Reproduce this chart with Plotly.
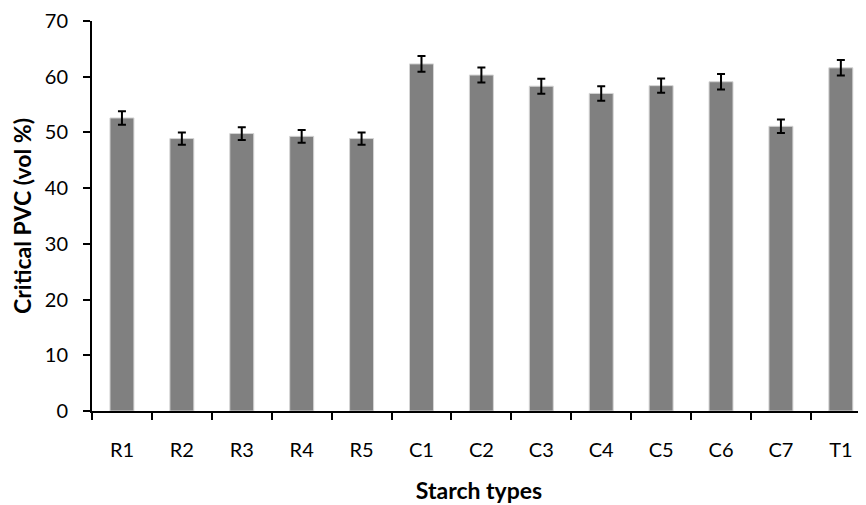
import plotly.graph_objects as go

starch_types = ["R1", "R2", "R3", "R4", "R5", "C1", "C2", "C3", "C4", "C5", "C6", "C7", "T1"]
critical_pvc = [52.6, 48.9, 49.8, 49.3, 48.9, 62.3, 60.3, 58.3, 57.0, 58.4, 59.1, 51.1, 61.6]
pvc_error = [1.2, 1.1, 1.15, 1.15, 1.1, 1.4, 1.35, 1.35, 1.3, 1.3, 1.4, 1.2, 1.4]

font_family = "Lato, 'Open Sans', sans-serif"

fig = go.Figure()

fig.add_trace(go.Bar(
    x=starch_types,
    y=critical_pvc,
    width=0.4,
    marker=dict(color="#808080", line=dict(color="#d4d4d4", width=1)),
    error_y=dict(type="data", array=pvc_error, visible=True,
                 color="black", thickness=2, width=4),
))

# page body has an 8px margin, so the figure is shrunk to fit the 866x505 window
fig.update_layout(
    width=858, height=497,
    margin=dict(l=84, r=0, t=7, b=94),
    plot_bgcolor="white",
    paper_bgcolor="white",
    showlegend=False,
    font=dict(family=font_family, size=20, color="black"),
)

fig.update_xaxes(
    type="category",
    range=[-0.5, 12.42],
    showline=True, linecolor="black", linewidth=2,
    ticks="outside", tickson="boundaries", ticklen=7, tickwidth=2, tickcolor="black",
    showgrid=False,
    title=dict(text="<b>Starch types</b>", standoff=23,
               font=dict(family=font_family, size=23, color="black")),
    tickfont=dict(size=20),
    ticklabelstandoff=20,
)

fig.update_yaxes(
    range=[0, 70],
    dtick=10,
    showline=True, linecolor="black", linewidth=2,
    ticks="outside", ticklen=7, tickwidth=2, tickcolor="black",
    showgrid=False, zeroline=False,
    title=dict(text="<b>Critical PVC (vol %)</b>", standoff=12,
               font=dict(family=font_family, size=23, color="black")),
    tickfont=dict(size=20),
    ticklabelstandoff=11,
    ticklabeloverflow="allow",
)

fig.write_html("out.html")
